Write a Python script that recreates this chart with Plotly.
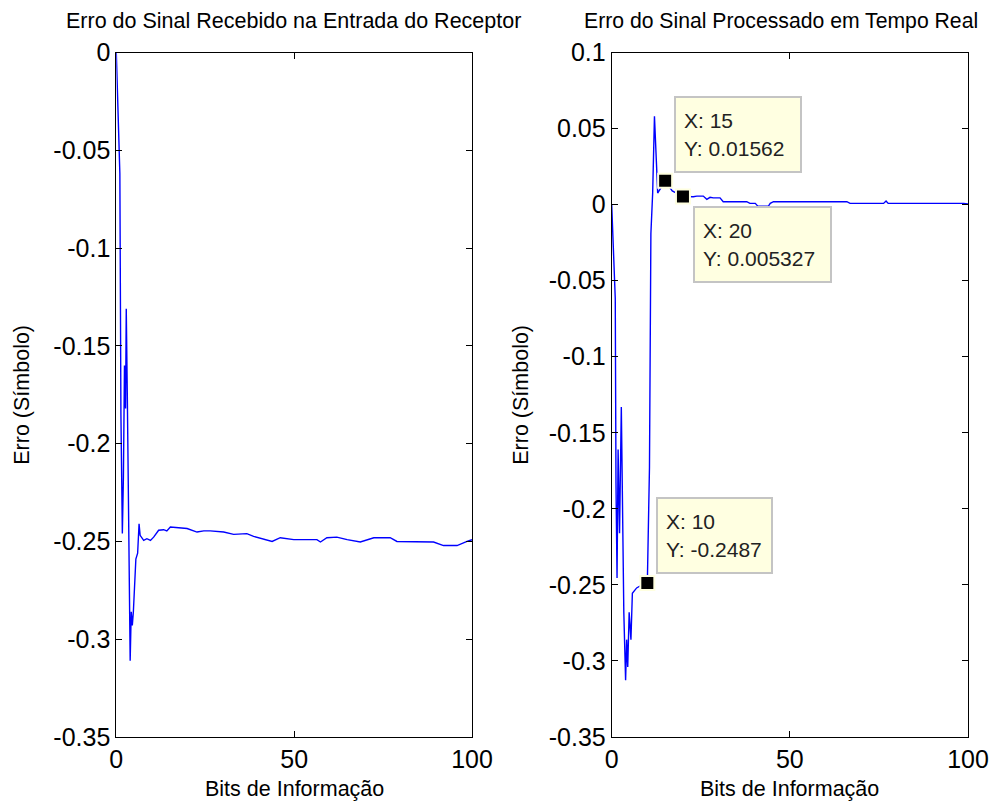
import plotly.graph_objects as go

# ---------------- data ----------------
left_x = [0, 1, 1.3, 1.7, 2.0, 2.3, 2.6, 2.8, 3.1, 3.5, 3.9, 4.2, 4.5, 4.8, 5.1, 5.5, 6.0, 6.4,
          6.7, 7.7, 8.6, 9.6, 10.5, 11.9, 13.3, 14.2, 15.2, 18.0, 19.9, 22.7, 24.6, 26.4, 30.2,
          33.0, 36.7, 38.6, 41.4, 43.8, 46.1, 49.9, 56.4, 57.4, 59.2, 62.0, 64.9, 68.6, 72.4,
          77.0, 78.9, 86.4, 89.2, 92.0, 95.8, 98.6, 100]
left_y = [0, -0.062, -0.185, -0.246, -0.217, -0.160, -0.182, -0.131, -0.176, -0.267, -0.311,
          -0.286, -0.293, -0.286, -0.273, -0.259, -0.256, -0.241, -0.2469, -0.2495, -0.2486,
          -0.2495, -0.2478, -0.2443, -0.2440, -0.2446, -0.2426, -0.2429, -0.2434, -0.2452,
          -0.2446, -0.2446, -0.2452, -0.2464, -0.2460, -0.2474, -0.2486, -0.2500, -0.2481,
          -0.2491, -0.2491, -0.2503, -0.2481, -0.2478, -0.2491, -0.2503, -0.2481, -0.2481,
          -0.2500, -0.2503, -0.2503, -0.2521, -0.2521, -0.2500, -0.2491]

right_x = [0, 1, 1.2, 1.5, 1.8, 2.2, 2.7, 3.0, 3.4, 3.9, 4.2, 4.5, 4.9, 5.4, 5.8, 7, 8.5, 10,
           10.6, 11.0, 11.5, 12.0, 12.3, 12.6, 12.9, 14, 15, 17, 20, 22.9, 23.9, 25.7, 26.7,
           27.6, 28.5, 30.4, 31.3, 37.9, 38.8, 40.3, 41.0, 44.0, 44.5, 45.4, 66.0, 66.9, 76.3,
           77.0, 77.6, 98.8, 100]
right_y = [0, -0.0616, -0.183, -0.2455, -0.161, -0.216, -0.133, -0.179, -0.268, -0.3126,
           -0.286, -0.304, -0.268, -0.286, -0.2555, -0.252, -0.250, -0.2487, -0.173, -0.019,
           0.0076, 0.058, 0.045, 0.025, 0.0076, 0.012, 0.01562, 0.009, 0.005327, 0.0052, 0.0056,
           0.0056, 0.0035, 0.0048, 0.0044, 0.0044, 0.0019, 0.0019, 0.0008, 0.0008, -0.001,
           -0.001, 0.0008, 0.0019, 0.0019, 0.0008, 0.0008, 0.0024, 0.0008, 0.0008, 0.0005]

tip_x = [15, 20, 10]
tip_y = [0.01562, 0.005327, -0.2487]
tip_labels = ["X: 15<br>Y: 0.01562", "X: 20<br>Y: 0.005327", "X: 10<br>Y: -0.2487"]

x_ticks = [0, 50, 100]
x_ticktext = ["0", "50", "100"]
left_yticks = [0, -0.05, -0.1, -0.15, -0.2, -0.25, -0.3, -0.35]
left_yticktext = ["0", "-0.05", "-0.1", "-0.15", "-0.2", "-0.25", "-0.3", "-0.35"]
right_yticks = [0.1, 0.05, 0, -0.05, -0.1, -0.15, -0.2, -0.25, -0.3, -0.35]
right_yticktext = ["0.1", "0.05", "0", "-0.05", "-0.1", "-0.15", "-0.2", "-0.25", "-0.3", "-0.35"]

title_left = "Erro do Sinal Recebido na Entrada do Receptor"
title_right = "Erro do Sinal Processado em Tempo Real"
xlabel = "Bits de Informação"
ylabel = "Erro (Símbolo)"

# ---------------- layout geometry ----------------
W, H = 990, 803
def px(x):
    return x / W
def py(y):
    return 1 - y / H

TOP, BOT = 52.5, 737
L1, R1 = 116.3, 472
L2, R2 = 611.7, 968

FONT = "Liberation Sans, Arial, sans-serif"

fig = go.Figure()
fig.add_trace(go.Scatter(x=left_x, y=left_y, mode="lines", line=dict(color="#0000FF", width=1.4),
                         xaxis="x", yaxis="y", showlegend=False, hoverinfo="skip"))
fig.add_trace(go.Scatter(x=right_x, y=right_y, mode="lines", line=dict(color="#0000FF", width=1.4),
                         xaxis="x2", yaxis="y2", showlegend=False, hoverinfo="skip"))
fig.add_trace(go.Scatter(x=tip_x, y=tip_y, mode="markers",
                         marker=dict(symbol="square", size=14, color="black",
                                     line=dict(color="#FFFFE0", width=2)),
                         xaxis="x2", yaxis="y2", showlegend=False, hoverinfo="skip"))

axis_common = dict(showline=True, linecolor="black", linewidth=1, mirror="ticks",
                   ticks="inside", ticklen=6, tickcolor="black", tickwidth=1,
                   showgrid=False, zeroline=False, automargin=False,
                   tickfont=dict(family=FONT, size=25, color="black"),
                   tickmode="array", ticklabelstandoff=0)

fig.update_layout(
    width=W, height=H, autosize=False,
    margin=dict(l=0, r=0, t=0, b=0, pad=0, autoexpand=False),
    paper_bgcolor="white", plot_bgcolor="white",
    xaxis=dict(domain=[px(L1), px(R1)], range=[0, 100], tickvals=x_ticks, ticktext=x_ticktext,
               anchor="y", **axis_common),
    yaxis=dict(domain=[py(BOT), py(TOP)], range=[-0.35, 0], tickvals=left_yticks,
               ticktext=left_yticktext, anchor="x", **axis_common),
    xaxis2=dict(domain=[px(L2), px(R2)], range=[0, 100], tickvals=x_ticks, ticktext=x_ticktext,
                anchor="y2", **axis_common),
    yaxis2=dict(domain=[py(BOT), py(TOP)], range=[-0.35, 0.1], tickvals=right_yticks,
                ticktext=right_yticktext, anchor="x2", **axis_common),
)

ann = []
# titles
ann.append(dict(text=title_left, x=px(293), y=py(21), xref="paper", yref="paper",
                showarrow=False, xanchor="center", yanchor="middle",
                font=dict(family=FONT, size=21.5, color="black")))
ann.append(dict(text=title_right, x=px(781), y=py(21), xref="paper", yref="paper",
                showarrow=False, xanchor="center", yanchor="middle",
                font=dict(family=FONT, size=21.2, color="black")))
# x labels
for cx in [(L1 + R1) / 2, (L2 + R2) / 2]:
    ann.append(dict(text=xlabel, x=px(cx), y=py(789), xref="paper", yref="paper",
                    showarrow=False, xanchor="center", yanchor="middle",
                    font=dict(family=FONT, size=21.5, color="black")))
# y labels
for cx in [22, 521]:
    ann.append(dict(text=ylabel, x=px(cx), y=py((TOP + BOT) / 2), xref="paper", yref="paper",
                    showarrow=False, xanchor="center", yanchor="middle", textangle=-90,
                    font=dict(family=FONT, size=21.5, color="black")))
# data tips
tip_geom = [  # (xshift, yshift, xanchor, yanchor, width)
    (9, 8, "left", "bottom", 108),
    (10, -9, "left", "top", 119),
    (9, 9, "left", "bottom", 97),
]
for (tx, ty, lab), (xs, ys, xa, ya, w) in zip(zip(tip_x, tip_y, tip_labels), tip_geom):
    ann.append(dict(text=lab, x=tx, y=ty, xref="x2", yref="y2", showarrow=False,
                    xanchor=xa, yanchor=ya, xshift=xs, yshift=ys, align="left",
                    width=w, height=57, valign="middle",
                    bgcolor="#FFFFE1", bordercolor="#C4C4C4", borderwidth=2, borderpad=8,
                    font=dict(family=FONT, size=21, color="#222222")))
fig.update_layout(annotations=ann)

fig.write_html(
    "out.html",
    config={"displayModeBar": False, "staticPlot": True},
    post_script="document.body.style.margin='0';document.body.style.overflow='hidden';"
                "document.documentElement.style.overflow='hidden';",
)
